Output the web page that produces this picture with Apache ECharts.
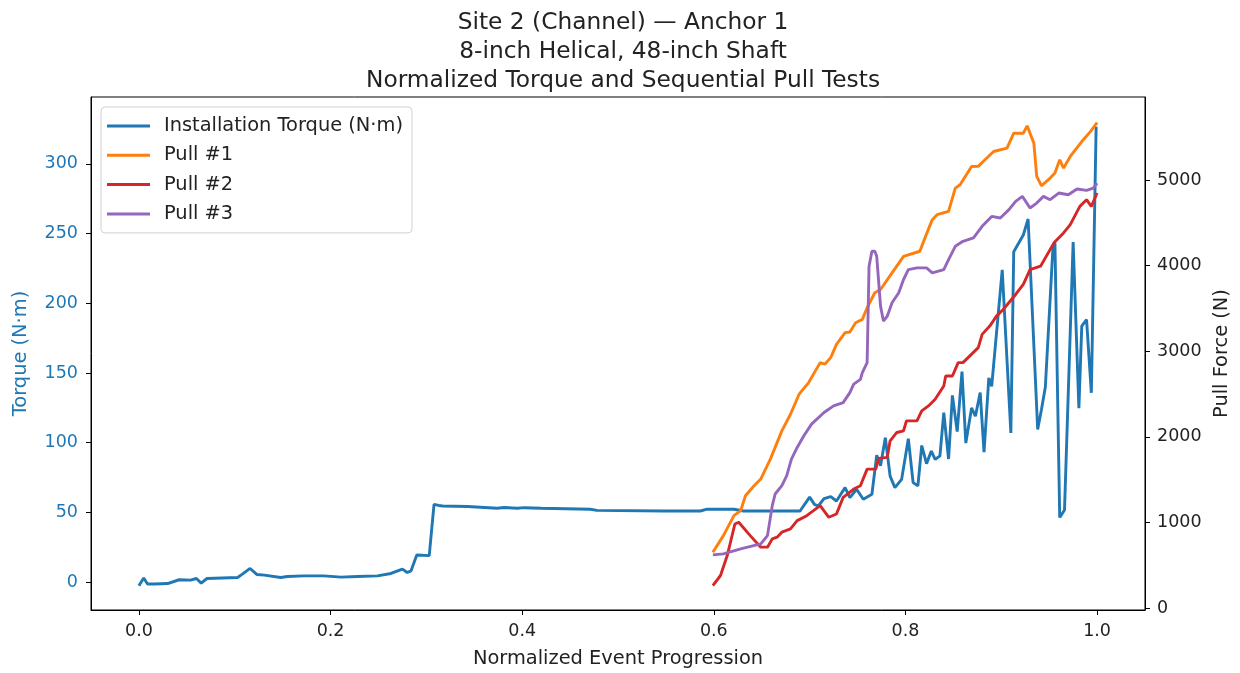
<!DOCTYPE html>
<html>
<head>
<meta charset="utf-8">
<script src="https://cdn.jsdelivr.net/npm/echarts@6.0.0/dist/echarts.min.js"></script>
<style>
html,body{margin:0;padding:0;background:#fff;}
#chart{width:1240px;height:673px;}
</style>
</head>
<body>
<div id="chart"></div>
<script>
// ---- Data ----
const titleLines = ["Site 2 (Channel) \u2014 Anchor 1", "8-inch Helical, 48-inch Shaft", "Normalized Torque and Sequential Pull Tests"];
const seriesNames = ["Installation Torque (N\u00b7m)", "Pull #1", "Pull #2", "Pull #3"];
const xTicks = [0, 0.2, 0.4, 0.6, 0.8, 1.0];
const torqueTicks = [0, 50, 100, 150, 200, 250, 300];
const forceTicks = [0, 1000, 2000, 3000, 4000, 5000];

// [normalized progression, torque N·m]
const torque = [[0.000,-2.6],[0.005,2.9],[0.009,-1.4],[0.016,-1.4],[0.030,-1.0],[0.042,1.7],[0.054,1.4],[0.060,2.6],[0.065,-0.7],[0.071,2.6],[0.103,3.3],[0.108,5.7],[0.116,9.8],[0.123,5.5],[0.131,5.0],[0.148,3.3],[0.155,4.0],[0.172,4.5],[0.193,4.5],[0.211,3.6],[0.228,4.0],[0.249,4.5],[0.263,6.2],[0.275,9.3],[0.280,6.9],[0.284,8.1],[0.290,19.5],[0.303,19.0],[0.308,55.8],[0.313,55.0],[0.317,54.6],[0.343,54.2],[0.374,53.0],[0.381,53.5],[0.395,53.0],[0.402,53.4],[0.420,53.0],[0.471,52.3],[0.478,51.5],[0.548,51.0],[0.586,51.0],[0.593,52.3],[0.621,52.3],[0.631,51.0],[0.690,51.0],[0.700,61.0],[0.705,55.8],[0.709,54.6],[0.715,59.9],[0.722,61.4],[0.728,58.2],[0.737,67.8],[0.742,60.6],[0.749,66.6],[0.756,59.4],[0.765,63.0],[0.770,91.0],[0.774,83.5],[0.779,103.6],[0.784,76.0],[0.789,67.8],[0.796,73.7],[0.803,102.9],[0.808,71.4],[0.813,69.0],[0.817,98.0],[0.822,85.0],[0.827,94.0],[0.831,88.0],[0.836,90.6],[0.840,121.5],[0.845,88.3],[0.849,134.0],[0.854,108.0],[0.859,151.0],[0.863,99.7],[0.869,125.0],[0.873,119.0],[0.878,136.0],[0.882,93.3],[0.887,146.5],[0.890,140.5],[0.901,224.0],[0.910,107.0],[0.913,237.0],[0.923,249.0],[0.928,260.5],[0.938,109.5],[0.942,124.0],[0.946,140.0],[0.954,241.0],[0.956,243.6],[0.961,46.3],[0.966,51.8],[0.975,244.0],[0.981,124.8],[0.984,183.6],[0.989,188.3],[0.994,135.8],[0.999,326.7]];

// [normalized progression, pull force N]
const pull1 = [[0.599,652],[0.610,846],[0.621,1079],[0.628,1137],[0.633,1312],[0.642,1429],[0.649,1507],[0.659,1740],[0.671,2070],[0.680,2264],[0.689,2498],[0.699,2634],[0.711,2867],[0.716,2850],[0.722,2925],[0.728,3080],[0.737,3217],[0.742,3225],[0.748,3333],[0.755,3372],[0.760,3508],[0.768,3683],[0.774,3721],[0.786,3916],[0.798,4109],[0.815,4168],[0.821,4342],[0.828,4537],[0.833,4595],[0.845,4634],[0.852,4906],[0.857,4945],[0.869,5158],[0.876,5160],[0.883,5236],[0.892,5333],[0.906,5372],[0.913,5547],[0.923,5547],[0.927,5633],[0.934,5431],[0.937,5042],[0.942,4933],[0.951,5023],[0.956,5081],[0.961,5236],[0.965,5139],[0.972,5275],[0.984,5450],[0.993,5566],[1.000,5671]];

const pull2 = [[0.599,263],[0.607,380],[0.614,613],[0.622,982],[0.626,1002],[0.638,846],[0.649,711],[0.656,711],[0.661,808],[0.666,827],[0.671,886],[0.680,924],[0.687,1021],[0.697,1079],[0.704,1137],[0.711,1196],[0.720,1060],[0.728,1099],[0.735,1293],[0.746,1390],[0.753,1429],[0.760,1623],[0.769,1623],[0.772,1748],[0.781,1760],[0.784,1953],[0.791,2051],[0.798,2070],[0.801,2186],[0.812,2186],[0.817,2303],[0.824,2361],[0.831,2439],[0.840,2594],[0.842,2711],[0.849,2711],[0.855,2867],[0.860,2867],[0.876,3042],[0.880,3197],[0.888,3294],[0.895,3410],[0.902,3488],[0.915,3663],[0.923,3780],[0.930,3954],[0.941,3993],[0.955,4266],[0.965,4382],[0.972,4479],[0.982,4692],[0.989,4770],[0.994,4692],[1.000,4848]];

const pull3 = [[0.599,621],[0.610,633],[0.628,691],[0.649,749],[0.656,846],[0.661,1196],[0.664,1332],[0.671,1429],[0.676,1545],[0.681,1740],[0.687,1876],[0.694,2012],[0.702,2148],[0.715,2284],[0.725,2361],[0.735,2400],[0.742,2517],[0.746,2615],[0.753,2672],[0.755,2750],[0.760,2867],[0.762,3993],[0.765,4168],[0.768,4168],[0.770,4109],[0.774,3527],[0.777,3352],[0.781,3410],[0.786,3566],[0.793,3683],[0.798,3838],[0.803,3954],[0.812,3974],[0.822,3974],[0.828,3916],[0.840,3954],[0.845,4071],[0.852,4226],[0.860,4284],[0.871,4323],[0.880,4459],[0.890,4575],[0.899,4557],[0.908,4654],[0.915,4750],[0.922,4809],[0.930,4673],[0.937,4731],[0.944,4809],[0.951,4770],[0.960,4848],[0.970,4828],[0.979,4895],[0.989,4879],[0.996,4906],[1.000,4965]];

const colors = ['#1f77b4', '#ff7f0e', '#d62728', '#9467bd'];

// ---- Chart ----
const FONT = "'DejaVu Sans', sans-serif";
const TXT = '#222';
const TICK_FS = 17.5;
const LABEL_FS = 19.4;
const chart = echarts.init(document.getElementById('chart'), null, {renderer: 'canvas'});

function lineSeries(name, data, yIdx, color) {
  return {
    name: name, type: 'line', data: data, yAxisIndex: yIdx,
    showSymbol: false, symbol: 'none', smooth: false, animation: false,
    lineStyle: {color: color, width: 2.9},
    itemStyle: {color: color},
    emphasis: {disabled: true}
  };
}

const option = {
  animation: false,
  textStyle: {fontFamily: FONT},
  title: {
    text: titleLines.join('\n'),
    left: 618, top: 4, textAlign: 'center',
    textStyle: {fontFamily: FONT, fontSize: 23.3, fontWeight: 'normal', color: TXT, lineHeight: 28.8}
  },
  grid: {
    left: 91, right: 95, top: 97, bottom: 62,
    show: true, borderColor: '#000', borderWidth: 1, backgroundColor: 'transparent'
  },
  legend: {
    orient: 'vertical', left: 101, top: 107,
    data: seriesNames.map((n) => ({name: n, icon: 'rect'})),
    itemWidth: 43, itemHeight: 3, itemGap: 7.3,
    padding: [8, 9, 8, 6],
    borderColor: '#d0d0d0', borderWidth: 1, borderRadius: 4,
    backgroundColor: 'rgba(255,255,255,0.8)',
    textStyle: {fontFamily: FONT, fontSize: LABEL_FS, color: TXT, lineHeight: 22, padding: [0, 0, 0, 9]}
  },
  xAxis: {
    type: 'value', min: -0.05, max: 1.05,
    name: 'Normalized Event Progression', nameLocation: 'middle', nameGap: 39,
    nameTextStyle: {fontFamily: FONT, fontSize: LABEL_FS, color: TXT},
    axisLine: {show: true, onZero: false, lineStyle: {color: '#000', width: 1}},
    axisTick: {show: true, length: 5, customValues: xTicks, lineStyle: {color: '#000'}},
    axisLabel: {customValues: xTicks, margin: 12, fontFamily: FONT, fontSize: TICK_FS, color: TXT,
      formatter: (v) => Number(v).toFixed(1)},
    splitLine: {show: false}
  },
  yAxis: [
    {
      type: 'value', min: -20, max: 348, position: 'left',
      name: 'Torque (N\u00b7m)', nameLocation: 'middle', nameGap: 61,
      nameTextStyle: {fontFamily: FONT, fontSize: LABEL_FS, color: colors[0]},
      axisLine: {show: true, onZero: false, lineStyle: {color: '#000', width: 1}},
      axisTick: {show: true, length: 5, customValues: torqueTicks, lineStyle: {color: '#000'}},
      axisLabel: {customValues: torqueTicks, margin: 13, fontFamily: FONT, fontSize: TICK_FS, color: colors[0],
        formatter: (v) => String(v)},
      splitLine: {show: false}
    },
    {
      type: 'value', min: -23, max: 5970, position: 'right',
      name: 'Pull Force (N)', nameLocation: 'middle', nameGap: 67,
      nameTextStyle: {fontFamily: FONT, fontSize: LABEL_FS, color: TXT},
      axisLine: {show: true, onZero: false, lineStyle: {color: '#000', width: 1}},
      axisTick: {show: true, length: 5, customValues: forceTicks, lineStyle: {color: '#000'}},
      axisLabel: {customValues: forceTicks, margin: 12, fontFamily: FONT, fontSize: TICK_FS, color: TXT,
        formatter: (v) => String(v)},
      splitLine: {show: false}
    }
  ],
  series: [
    lineSeries(seriesNames[0], torque, 0, colors[0]),
    lineSeries(seriesNames[1], pull1, 1, colors[1]),
    lineSeries(seriesNames[2], pull2, 1, colors[2]),
    lineSeries(seriesNames[3], pull3, 1, colors[3])
  ]
};
chart.setOption(option);
</script>
</body>
</html>
